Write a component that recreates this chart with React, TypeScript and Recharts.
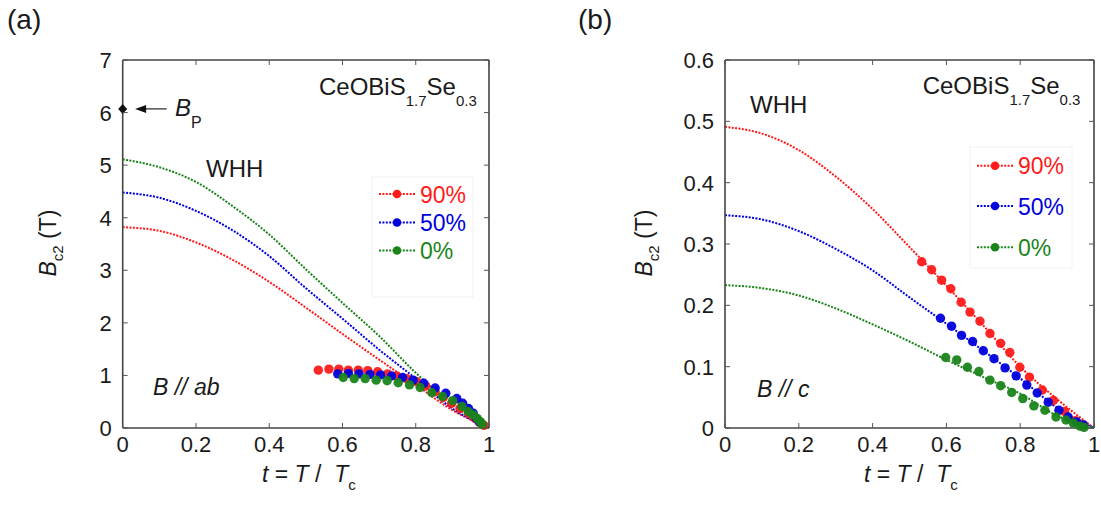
import React from 'react';
import { ComposedChart, Line, Scatter, XAxis, YAxis, ReferenceLine } from 'recharts';

const FONT = '"Liberation Sans", Arial, Helvetica, sans-serif';

// ---------- data ----------
const seriesNames = ['90%', '50%', '0%'];
const seriesColors = ['#ff1a1a', '#0000dd', '#1a841a'];

const xTicks = [0, 0.2, 0.4, 0.6, 0.8, 1];
const yTicksAb = [0, 1, 2, 3, 4, 5, 6, 7];
const yTicksC = [0, 0.1, 0.2, 0.3, 0.4, 0.5, 0.6];

const whhT = [0, 0.1, 0.2, 0.3, 0.4, 0.5, 0.6, 0.7, 0.8, 0.9, 1.0];
// WHH curves, B // ab
const whhAb90 = [3.82, 3.75, 3.53, 3.2, 2.78, 2.29, 1.79, 1.3, 0.82, 0.34, 0];
const whhAb50 = [4.48, 4.38, 4.13, 3.76, 3.27, 2.66, 2.08, 1.49, 0.94, 0.37, 0];
const whhAb0 = [5.11, 4.96, 4.68, 4.22, 3.68, 3.02, 2.38, 1.75, 1.05, 0.44, 0];
// WHH curves, B // c
const whhC90 = [0.491, 0.48, 0.453, 0.41, 0.357, 0.295, 0.232, 0.167, 0.1, 0.047, 0];
const whhC50 = [0.347, 0.34, 0.321, 0.292, 0.257, 0.213, 0.17, 0.126, 0.081, 0.033, 0];
const whhC0 = [0.233, 0.228, 0.216, 0.195, 0.169, 0.141, 0.111, 0.083, 0.056, 0.02, 0];

// measured points, B // ab
const ab90T = [0.534, 0.563, 0.59, 0.616, 0.643, 0.669, 0.696, 0.723, 0.748, 0.775, 0.803, 0.827, 0.853, 0.875, 0.898, 0.921, 0.944, 0.962, 0.975, 0.986];
const ab90V = [1.1, 1.12, 1.12, 1.1, 1.1, 1.09, 1.07, 1.03, 0.99, 0.94, 0.88, 0.8, 0.69, 0.58, 0.47, 0.37, 0.28, 0.18, 0.1, 0.05];
const ab50T = [0.587, 0.616, 0.645, 0.675, 0.704, 0.734, 0.764, 0.793, 0.822, 0.853, 0.882, 0.912, 0.928, 0.944, 0.957, 0.966, 0.973];
const ab50V = [1.03, 1.04, 1.03, 1.02, 1.01, 0.99, 0.96, 0.91, 0.85, 0.76, 0.66, 0.56, 0.47, 0.37, 0.28, 0.18, 0.12];
const ab0T = [0.602, 0.632, 0.662, 0.692, 0.722, 0.752, 0.783, 0.812, 0.844, 0.873, 0.901, 0.926, 0.944, 0.957, 0.968, 0.976, 0.982];
const ab0V = [0.96, 0.94, 0.94, 0.91, 0.9, 0.86, 0.82, 0.77, 0.67, 0.6, 0.52, 0.41, 0.31, 0.25, 0.18, 0.12, 0.07];

// measured points, B // c
const c90T = [0.533, 0.56, 0.587, 0.612, 0.64, 0.664, 0.691, 0.718, 0.747, 0.772, 0.799, 0.825, 0.86, 0.89, 0.92, 0.95, 0.97];
const c90V = [0.271, 0.258, 0.241, 0.227, 0.205, 0.189, 0.174, 0.154, 0.138, 0.123, 0.099, 0.083, 0.062, 0.045, 0.027, 0.012, 0.005];
const c50T = [0.584, 0.614, 0.641, 0.671, 0.7, 0.729, 0.759, 0.789, 0.818, 0.846, 0.876, 0.905, 0.93, 0.953, 0.971];
const c50V = [0.179, 0.166, 0.151, 0.141, 0.126, 0.113, 0.098, 0.085, 0.07, 0.057, 0.042, 0.029, 0.018, 0.01, 0.005];
const c0T = [0.598, 0.628, 0.657, 0.688, 0.718, 0.747, 0.777, 0.807, 0.837, 0.867, 0.897, 0.924, 0.944, 0.962, 0.973];
const c0V = [0.115, 0.111, 0.099, 0.092, 0.078, 0.069, 0.058, 0.048, 0.036, 0.029, 0.018, 0.013, 0.008, 0.003, 0.001];

const pauliLimit = 6.07;

const toPts = (ts: number[], vs: number[]) => ts.map((t, i) => ({ t, v: vs[i] }));

const whhAb = [whhAb90, whhAb50, whhAb0].map((vs) => toPts(whhT, vs));
const whhC = [whhC90, whhC50, whhC0].map((vs) => toPts(whhT, vs));
const ptsAb = [toPts(ab90T, ab90V), toPts(ab50T, ab50V), toPts(ab0T, ab0V)];
const ptsC = [toPts(c90T, c90V), toPts(c50T, c50V), toPts(c0T, c0V)];

// ---------- layout ----------
const CHART_W = 500;
const CHART_H = 507;
const MARGIN_TOP = 59;
const MARGIN_BOTTOM = 29;
const X_AXIS_H = 50;
const TOP_AXIS_H = 1;
const Y_AXIS_W = 60;
const RIGHT_AXIS_W = 1;
const PLOT_H = CHART_H - MARGIN_TOP - MARGIN_BOTTOM - X_AXIS_H - TOP_AXIS_H;

// ---------- rendering helpers ----------
const AXIS_COLOR = '#444';
const TICK_COLOR = '#555';
const TEXT_COLOR = '#1a1a1a';
const TICK_LEN = 5;
const X_LABEL_GAP = 8;
const Y_LABEL_GAP = 11;

// bottom axis tick: (x, y) is label position = axis + gap; also mirrors the tick on the top edge
const makeBottomTick = (plotH: number) => (p: any) => {
  const axisY = p.y - X_LABEL_GAP;
  const topY = axisY - plotH;
  return (
    <g>
      <line x1={p.x} y1={axisY} x2={p.x} y2={axisY - TICK_LEN} stroke={TICK_COLOR} strokeWidth={1} />
      <line x1={p.x} y1={topY} x2={p.x} y2={topY + TICK_LEN} stroke={TICK_COLOR} strokeWidth={1} />
      <text x={p.x} y={p.y + 15.6} textAnchor="middle" fontSize={22} fill={TEXT_COLOR} fontFamily={FONT}>
        {String(p.payload.value)}
      </text>
    </g>
  );
};
// left axis tick: also mirrors the tick on the right edge
const makeLeftTick = (plotW: number) => (p: any) => {
  const axisX = p.x + Y_LABEL_GAP;
  const rightX = axisX + plotW;
  return (
    <g>
      <line x1={axisX} y1={p.y} x2={axisX + TICK_LEN} y2={p.y} stroke={TICK_COLOR} strokeWidth={1} />
      <line x1={rightX} y1={p.y} x2={rightX - TICK_LEN} y2={p.y} stroke={TICK_COLOR} strokeWidth={1} />
      <text x={p.x} y={p.y + 8} textAnchor="end" fontSize={22} fill={TEXT_COLOR} fontFamily={FONT}>
        {String(p.payload.value)}
      </text>
    </g>
  );
};

const dotShape = (color: string) => (p: any) =>
  p.cx == null ? <g /> : <circle cx={p.cx} cy={p.cy} r={4.7} fill={color} fillOpacity={0.95} />;

const diamondShape = (p: any) =>
  p.cx == null ? (
    <g />
  ) : (
    <polygon
      points={`${p.cx},${p.cy - 5} ${p.cx + 4.5},${p.cy} ${p.cx},${p.cy + 5} ${p.cx - 4.5},${p.cy}`}
      fill="#111"
    />
  );

const arrowShape = (p: any) => {
  const { x1, y1, x2, y2 } = p;
  if (x1 == null) return <g />;
  const tip = Math.min(x1, x2);
  const tail = Math.max(x1, x2);
  return (
    <g>
      <line x1={tip + 8} y1={y1} x2={tail} y2={y2} stroke="#222" strokeWidth={1.2} />
      <polygon points={`${tip},${y1} ${tip + 11},${y1 - 4} ${tip + 11},${y1 + 4}`} fill="#111" />
    </g>
  );
};

interface PanelProps {
  whh: { t: number; v: number }[][];
  pts: { t: number; v: number }[][];
  yTicks: number[];
  yMax: number;
  marginLeft: number;
  marginRight: number;
  showPauli?: boolean;
}

function Panel(props: PanelProps) {
  const { whh, pts, yTicks, yMax, marginLeft, marginRight, showPauli } = props;
  const axisLine = { stroke: AXIS_COLOR, strokeWidth: 1.6 };
  const plotW = CHART_W - marginLeft - marginRight - Y_AXIS_W - RIGHT_AXIS_W;
  return (
    <ComposedChart
      width={CHART_W}
      height={CHART_H}
      margin={{ top: MARGIN_TOP, right: marginRight, bottom: MARGIN_BOTTOM, left: marginLeft }}
    >
      <XAxis
        xAxisId={0}
        dataKey="t"
        type="number"
        domain={[0, 1]}
        ticks={xTicks}
        height={X_AXIS_H}
        tickSize={0}
        tickMargin={X_LABEL_GAP}
        tick={makeBottomTick(PLOT_H)}
        tickLine={false}
        axisLine={axisLine}
        interval={0}
      />
      <XAxis
        xAxisId="top"
        orientation="top"
        type="number"
        domain={[0, 1]}
        ticks={xTicks}
        height={TOP_AXIS_H}
        tick={false}
        tickLine={false}
        axisLine={axisLine}
      />
      <YAxis
        yAxisId={0}
        type="number"
        domain={[0, yMax]}
        ticks={yTicks}
        width={Y_AXIS_W}
        tickSize={0}
        tickMargin={Y_LABEL_GAP}
        tick={makeLeftTick(plotW)}
        tickLine={false}
        axisLine={axisLine}
        interval={0}
      />
      <YAxis
        yAxisId="right"
        orientation="right"
        type="number"
        domain={[0, yMax]}
        ticks={yTicks}
        width={RIGHT_AXIS_W}
        tick={false}
        tickLine={false}
        axisLine={axisLine}
      />
      {whh.map((d, i) => (
        <Line
          key={'whh' + i}
          data={d}
          dataKey="v"
          type="monotone"
          stroke={seriesColors[i]}
          strokeWidth={2}
          strokeDasharray="2 1.4"
          dot={false}
          activeDot={false}
          isAnimationActive={false}
        />
      ))}
      {pts.map((d, i) => (
        <Scatter
          key={'pts' + i}
          data={d}
          dataKey="v"
          shape={dotShape(seriesColors[i])}
          isAnimationActive={false}
        />
      ))}
      {showPauli && (
        <Scatter
          data={[{ t: 0, v: pauliLimit }]}
          dataKey="v"
          shape={diamondShape}
          isAnimationActive={false}
        />
      )}
      {showPauli && (
        <ReferenceLine
          segment={[
            { x: 0.034, y: pauliLimit },
            { x: 0.12, y: pauliLimit },
          ]}
          shape={arrowShape}
        />
      )}
    </ComposedChart>
  );
}

function Legend({ x, ys }: { x: number; ys: number[] }) {
  return (
    <g>
      {seriesNames.map((name, i) => (
        <g key={name}>
          <line
            x1={x}
            y1={ys[i]}
            x2={x + 36}
            y2={ys[i]}
            stroke={seriesColors[i]}
            strokeWidth={2}
            strokeDasharray="2 1.4"
          />
          <circle cx={x + 18} cy={ys[i]} r={4.3} fill={seriesColors[i]} />
          <text x={x + 41} y={ys[i] + 8.5} fontSize={23} fill={seriesColors[i]} fontFamily={FONT}>
            {name}
          </text>
        </g>
      ))}
    </g>
  );
}

function Formula({ x, y }: { x: number; y: number }) {
  return (
    <text x={x} y={y} fontSize={24} fill={TEXT_COLOR} fontFamily={FONT}>
      CeOBiS
      <tspan fontSize={15} dy={11}>1.7</tspan>
      <tspan dy={-11}>Se</tspan>
      <tspan fontSize={15} dy={11}>0.3</tspan>
    </text>
  );
}

function XTitle({ x, y }: { x: number; y: number }) {
  return (
    <text x={x} y={y} fontSize={23} fill={TEXT_COLOR} fontFamily={FONT} xmlSpace="preserve">
      <tspan fontStyle="italic">t</tspan>
      <tspan> = </tspan>
      <tspan fontStyle="italic">T</tspan>
      <tspan> /  </tspan>
      <tspan fontStyle="italic">T</tspan>
      <tspan fontSize={15} dy={8}>c</tspan>
    </text>
  );
}

function YTitle({ x, y }: { x: number; y: number }) {
  return (
    <text
      transform={`translate(${x},${y}) rotate(-90)`}
      textAnchor="middle"
      fontSize={23}
      fill={TEXT_COLOR}
      fontFamily={FONT}
    >
      <tspan fontStyle="italic">B</tspan>
      <tspan fontSize={15} dy={7}>c2</tspan>
      <tspan dy={-7}> (T)</tspan>
    </text>
  );
}

export default function App() {
  return (
    <div
      style={{
        position: 'absolute',
        left: 0,
        top: 0,
        width: 1101,
        height: 507,
        background: '#fff',
        overflow: 'hidden',
        fontFamily: FONT,
      }}
    >
      <div style={{ position: 'absolute', left: 0, top: 0 }}>
        <Panel
          whh={whhAb}
          pts={ptsAb}
          yTicks={yTicksAb}
          yMax={7}
          marginLeft={62.7}
          marginRight={10}
          showPauli
        />
      </div>
      <div style={{ position: 'absolute', left: 600, top: 0 }}>
        <Panel
          whh={whhC}
          pts={ptsC}
          yTicks={yTicksC}
          yMax={0.6}
          marginLeft={65}
          marginRight={5}
        />
      </div>
      <svg
        width={1101}
        height={507}
        style={{ position: 'absolute', left: 0, top: 0, pointerEvents: 'none' }}
      >
        {/* panel labels */}
        <text x={7} y={29} fontSize={28} fill={TEXT_COLOR} fontFamily={FONT}>(a)</text>
        <text x={578} y={29} fontSize={28} fill={TEXT_COLOR} fontFamily={FONT}>(b)</text>

        {/* axis titles */}
        <YTitle x={56} y={243} />
        <YTitle x={652} y={243} />
        <XTitle x={262} y={482} />
        <XTitle x={864} y={482} />

        {/* left panel annotations */}
        <Formula x={319} y={95} />
        <text x={175} y={116} fontSize={24} fontStyle="italic" fill={TEXT_COLOR} fontFamily={FONT}>
          B<tspan fontStyle="normal" fontSize={16} dy={12}>P</tspan>
        </text>
        <text x={206} y={177} fontSize={24} fill={TEXT_COLOR} fontFamily={FONT}>WHH</text>
        <rect x={372} y={177} width={101} height={120} fill="none" stroke="#f2f2f2" strokeWidth={1} />
        <Legend x={379} ys={[194, 222.5, 250.5]} />
        <text x={153} y={395} fontSize={23} fontStyle="italic" fill={TEXT_COLOR} fontFamily={FONT} xmlSpace="preserve">
          B // ab
        </text>

        {/* right panel annotations */}
        <Formula x={922.7} y={94} />
        <text x={750} y={113} fontSize={24} fill={TEXT_COLOR} fontFamily={FONT}>WHH</text>
        <rect x={970} y={147} width={102} height={121} fill="none" stroke="#f2f2f2" strokeWidth={1} />
        <Legend x={977} ys={[165.7, 206, 247.3]} />
        <text x={757} y={397} fontSize={23} fontStyle="italic" fill={TEXT_COLOR} fontFamily={FONT} xmlSpace="preserve">
          B // c
        </text>
      </svg>
    </div>
  );
}
